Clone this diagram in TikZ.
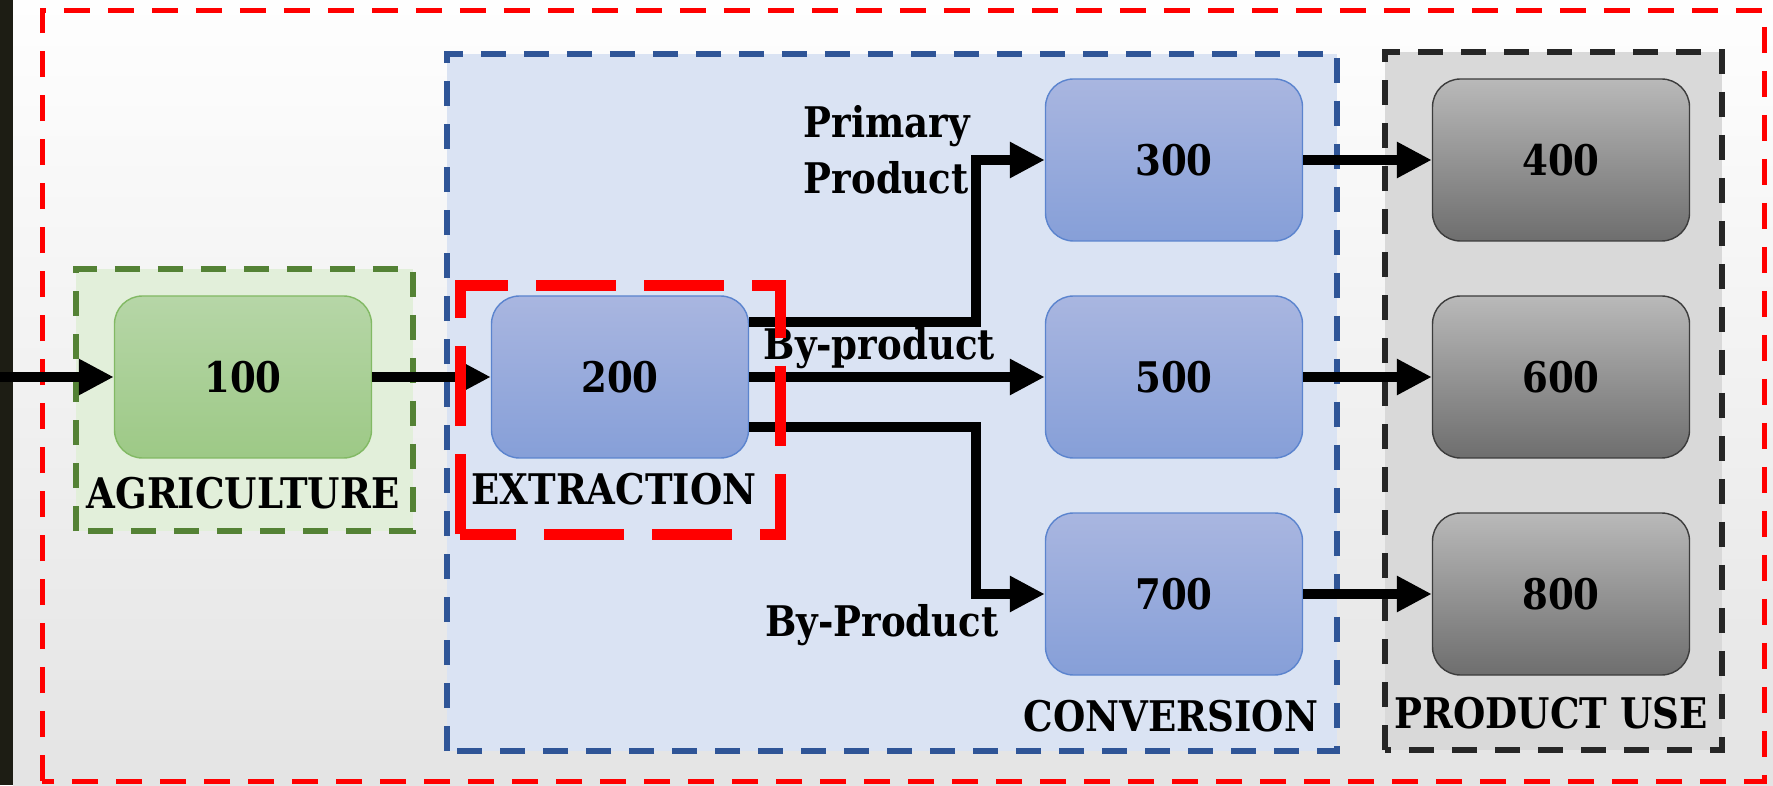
\documentclass[tikz,border=0pt]{standalone}
\usepackage{fontspec}
\setmainfont[FakeStretch=0.88]{DejaVu Serif}
\usetikzlibrary{arrows.meta,calc}
\definecolor{bgtop}{RGB}{254,254,254}
\definecolor{bgbot}{RGB}{228,228,228}
\definecolor{darkstrip}{RGB}{29,29,20}
\definecolor{agrifill}{RGB}{226,239,218}
\definecolor{agriline}{RGB}{84,130,53}
\definecolor{agritop}{RGB}{182,214,167}
\definecolor{agribot}{RGB}{157,201,134}
\definecolor{agriedge}{RGB}{130,185,100}
\definecolor{convfill}{RGB}{218,227,243}
\definecolor{convline}{RGB}{47,85,151}
\definecolor{convtop}{RGB}{169,182,224}
\definecolor{convbot}{RGB}{134,159,216}
\definecolor{convedge}{RGB}{91,132,206}
\definecolor{usefill}{RGB}{217,217,217}
\definecolor{useline}{RGB}{38,38,38}
\definecolor{usetop}{RGB}{185,185,185}
\definecolor{usebot}{RGB}{110,110,110}
\definecolor{useedge}{RGB}{60,60,60}
\definecolor{alertred}{RGB}{255,0,0}

\begin{document}
\begin{tikzpicture}[
    box/.style={rounded corners=0.28cm, minimum width=2.57cm, minimum height=1.62cm,
        font=\bfseries\fontsize{12}{14}\selectfont, draw},
    agri/.style={box, draw=agriedge, top color=agritop, bottom color=agribot},
    conv/.style={box, draw=convedge, top color=convtop, bottom color=convbot},
    prod/.style={box, draw=useedge, top color=usetop, bottom color=usebot},
    zone/.style={line width=0.055cm, dash pattern=on 0.25cm off 0.18cm},
    flow/.style={line width=0.1cm, -{Triangle[length=0.35cm,width=0.34cm]}},
    lbl/.style={font=\bfseries\fontsize{12}{16}\selectfont, inner sep=1pt},
]
    \useasboundingbox (0,0) rectangle (17.73,7.85);

    % Background
    \shade[top color=bgtop, bottom color=bgbot] (0.13,0) rectangle (17.73,7.85);
    \fill[darkstrip] (0,0) rectangle (0.13,7.85);
    \draw[alertred, line width=0.05cm, dash pattern=on 0.26cm off 0.18cm]
        (0.42,0.04) rectangle (17.64,7.74);

    % Stage zones
    \filldraw[zone, fill=agrifill, draw=agriline] (0.76,2.54) rectangle (4.13,5.16);
    \filldraw[zone, fill=convfill, draw=convline] (4.47,0.34) rectangle (13.37,7.31);
    \filldraw[zone, fill=usefill, draw=useline] (13.85,0.35) rectangle (17.22,7.33);

    % Process blocks
    \foreach \id/\x/\y/\sty in {
        100/2.43/4.08/agri,
        200/6.20/4.08/conv,
        300/11.74/6.25/conv,
        500/11.74/4.08/conv,
        700/11.74/1.91/conv,
        400/15.61/6.25/prod,
        600/15.61/4.08/prod,
        800/15.61/1.91/prod%
    } {
        \node[\sty] (n\id) at (\x,\y) {\id};
    }

    % Zone labels
    \node[lbl] (lblagri) at (2.43,2.92) {AGRICULTURE};
    \node[lbl] (lblextr) at (6.14,2.96) {EXTRACTION};
    \node[lbl] (lblconv) at (11.71,0.69) {CONVERSION};
    \node[lbl] (lbluse) at (15.51,0.72) {PRODUCT USE};

    % Flows
    \coordinate (feed) at (0,4.08);
    \draw[flow] (feed) -- (n100.west);
    \draw[flow] (n100.east) -- (n200.west);
    \draw[flow] ($(n200.east)+(0,0.55)$) -| ([xshift=-0.69cm]n300.west) -- (n300.west);
    \draw[flow] (n200.east) -- node[lbl, above, pos=0.44] (lblby) {By-product} (n500.west);
    \draw[flow] ($(n200.east)+(0,-0.50)$) -| ([xshift=-0.69cm]n700.west) -- (n700.west);
    \foreach \a/\b in {300/400, 500/600, 700/800} {
        \draw[flow] (n\a.east) -- (n\b.west);
    }

    % Flow labels
    \node[lbl, align=left, anchor=east] (lblprim) at (9.74,6.35) {Primary\\Product};
    \node[lbl] (lblbyp) at (8.82,1.60) {By-Product};

    % Highlight
    \draw[alertred, line width=0.11cm, dash pattern=on 0.8cm off 0.28cm]
        (4.60,2.51) rectangle (7.80,4.99);
\end{tikzpicture}
\end{document}
